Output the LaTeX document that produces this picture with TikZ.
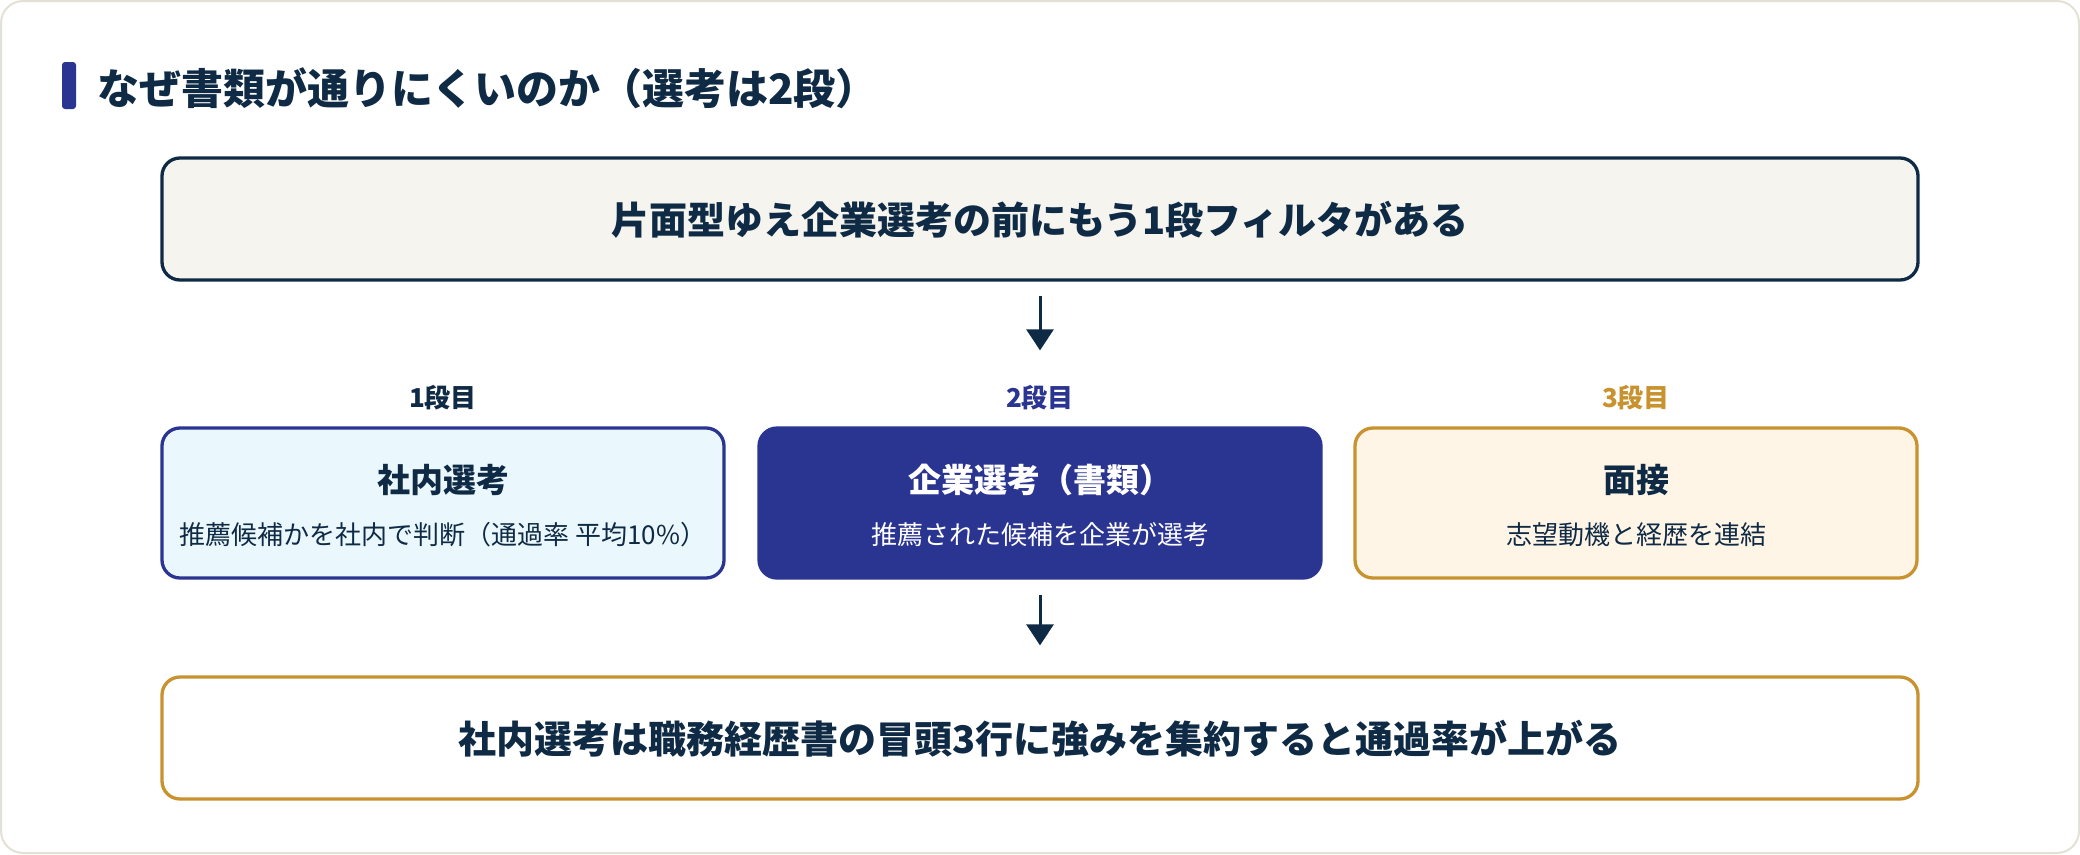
\documentclass[tikz,border=0pt]{standalone}
\usepackage{fontspec}
\setmainfont{Noto Sans CJK JP}
\usetikzlibrary{arrows.meta,positioning}

\definecolor{ink}{HTML}{0F2A44}
\definecolor{indigo}{HTML}{2A3491}
\definecolor{gold}{HTML}{C8922F}
\definecolor{paper}{HTML}{F5F4EE}
\definecolor{ice}{HTML}{EAF8FD}
\definecolor{cream}{HTML}{FFF5E6}
\definecolor{rim}{HTML}{E3E1D5}

\begin{document}
\begin{tikzpicture}[x=1pt,y=-1pt,
  box/.style={draw, line width=3.3pt, rounded corners=18pt, inner sep=0pt},
  wide/.style={box, minimum width=1756pt, minimum height=122pt},
  stagebox/.style={box, minimum width=562pt, minimum height=150pt},
  headtext/.style={font=\bfseries\fontsize{38}{46}\selectfont, text=ink},
  stagelabel/.style={font=\bfseries\fontsize{26}{32}\selectfont},
  boxtitle/.style={font=\bfseries\fontsize{33}{40}\selectfont, text=ink},
  boxsub/.style={font=\fontsize{26}{32}\selectfont, text=ink},
  link/.style={draw=ink, line width=3pt, -{Triangle[width=27pt,length=21pt]}}]
\useasboundingbox (0,0) rectangle (2080,854);
% frame
\draw [rim, fill=white, line width=2pt, rounded corners=22pt] (1,1) rectangle (2079,853);
% heading
\fill [indigo, rounded corners=3pt] (62,62) rectangle (76,109);
\node (heading) [anchor=west, font=\bfseries\fontsize{42}{50}\selectfont, text=ink, inner sep=0pt] at (97,88) {なぜ書類が通りにくいのか（選考は2段）};
% top message
\node (top) [wide, draw=ink, fill=paper] at (1040,219) {};
\node (toptext) [headtext] at (1040,220) {片面型ゆえ企業選考の前にもう1段フィルタがある};
% stages
\node (lab1) [stagelabel, text=ink] at (443,398) {1段目};
\node (lab2) [stagelabel, text=indigo] at (1040,398) {2段目};
\node (lab3) [stagelabel, text=gold] at (1636,398) {3段目};
\node (inner) [stagebox, draw=indigo, fill=ice] at (443,503) {};
\node (mid) [stagebox, draw=indigo, fill=indigo] at (1040,503) {};
\node (interview) [stagebox, draw=gold, fill=cream] at (1636,503) {};
\node (innertitle) [boxtitle] at (443,480) {社内選考};
\node (innersub) [boxsub] at (443,535) {推薦候補かを社内で判断（通過率 平均10\%）};
\node (midtitle) [boxtitle, text=white] at (1040,480) {企業選考（書類）};
\node (midsub) [boxsub, text=white] at (1040,535) {推薦された候補を企業が選考};
\node (intertitle) [boxtitle] at (1636,480) {面接};
\node (intersub) [boxsub] at (1636,535) {志望動機と経歴を連結};
% bottom message
\node (bottom) [wide, draw=gold, fill=white] at (1040,738) {};
\node (bottomtext) [headtext] at (1040,739) {社内選考は職務経歴書の冒頭3行に強みを集約すると通過率が上がる};
% arrows
\draw [link] ([yshift=-14pt]top.south) -- ([yshift=76pt]mid.north);
\draw [link] ([yshift=-15pt]mid.south) -- ([yshift=30pt]bottom.north);
\end{tikzpicture}
\end{document}
